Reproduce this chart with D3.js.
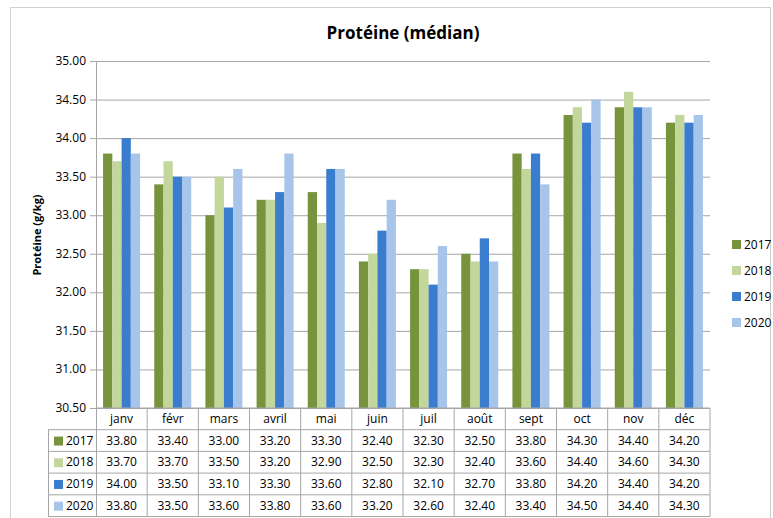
<!DOCTYPE html>
<html><head><meta charset="utf-8">
<script src="https://cdn.jsdelivr.net/npm/d3@7"></script>
<style>body{margin:0;background:#fff}text{font-family:"Open Sans","Liberation Sans",sans-serif;fill:#000}</style>
</head><body><div id="chart"></div>
<script>
var months = ["janv","févr","mars","avril","mai","juin","juil","août","sept","oct","nov","déc"];
var years = ["2017","2018","2019","2020"];
var v2017 = [33.80,33.40,33.00,33.20,33.30,32.40,32.30,32.50,33.80,34.30,34.40,34.20];
var v2018 = [33.70,33.70,33.50,33.20,32.90,32.50,32.30,32.40,33.60,34.40,34.60,34.30];
var v2019 = [34.00,33.50,33.10,33.30,33.60,32.80,32.10,32.70,33.80,34.20,34.40,34.20];
var v2020 = [33.80,33.50,33.60,33.80,33.60,33.20,32.60,32.40,33.40,34.50,34.40,34.30];
var yTicks = [30.5,31,31.5,32,32.5,33,33.5,34,34.5,35];
var colors = ["#77933c","#c3d69b","#3a7dce","#a7c4e9"];
var series = [v2017, v2018, v2019, v2020];

var W = 773, H = 518, L = 96, R = 710, T = 61, B = 408, rowH = 21.7, tableLeft = 48;

var svg = d3.select("#chart").append("svg").attr("width", W).attr("height", H);
svg.append("rect").attr("x", 10.5).attr("y", 7.5).attr("width", 760).attr("height", 520)
  .attr("fill", "none").attr("stroke", "#d0d0d0");

var x = d3.scaleBand().domain(months).range([L, R]);
var x1 = d3.scaleBand().domain(years).range([0, 37]);
var y = d3.scaleLinear().domain([30.5, 35]).range([B, T]);

// gridlines
svg.append("g").selectAll("line").data(yTicks).enter().append("line")
  .attr("x1", L - 6).attr("x2", R).attr("y1", d => y(d) + 0.5).attr("y2", d => y(d) + 0.5)
  .attr("stroke", "#a6a6a6");
svg.append("g").selectAll("text").data(yTicks).enter().append("text")
  .attr("x", L - 10).attr("y", d => y(d) + 4).attr("text-anchor", "end")
  .style("font-size", "12px").text(d => d.toFixed(2));

// bars
series.forEach(function (s, i) {
  svg.append("g").selectAll("rect").data(s).enter().append("rect")
    .attr("x", (d, j) => x(months[j]) + (x.bandwidth() - 37) / 2 + x1(years[i]))
    .attr("width", x1.bandwidth())
    .attr("y", d => y(d)).attr("height", d => B - y(d))
    .attr("fill", colors[i]);
});

// axis line
svg.append("line").attr("x1", L + 0.5).attr("x2", L + 0.5).attr("y1", T).attr("y2", B + rowH * 5)
  .attr("stroke", "#a6a6a6");

// data table
var tbl = svg.append("g").attr("stroke", "#a6a6a6");
for (var r = 0; r <= 5; r++) {
  tbl.append("line").attr("x1", r === 0 ? L : tableLeft).attr("x2", R)
    .attr("y1", B + r * rowH).attr("y2", B + r * rowH);
}
tbl.append("line").attr("x1", tableLeft + 0.5).attr("x2", tableLeft + 0.5).attr("y1", B + rowH).attr("y2", B + 5 * rowH);
months.forEach(function (m) {
  tbl.append("line").attr("x1", x(m) + x.bandwidth()).attr("x2", x(m) + x.bandwidth())
    .attr("y1", B).attr("y2", B + 5 * rowH);
});
svg.append("g").selectAll("text").data(months).enter().append("text")
  .attr("x", d => x(d) + x.bandwidth() / 2).attr("y", B + rowH / 2 + 4)
  .attr("text-anchor", "middle").style("font-size", "12px").text(d => d);
series.forEach(function (s, i) {
  var cy = B + rowH * (i + 1) + rowH / 2;
  svg.append("rect").attr("x", tableLeft + 6).attr("y", cy - 4).attr("width", 9).attr("height", 9).attr("fill", colors[i]);
  svg.append("text").attr("x", tableLeft + 18).attr("y", cy + 4).style("font-size", "12px").text(years[i]);
  svg.append("g").selectAll("text").data(s).enter().append("text")
    .attr("x", (d, j) => x(months[j]) + x.bandwidth() / 2).attr("y", cy + 4)
    .attr("text-anchor", "middle").style("font-size", "12px").text(d => d.toFixed(2));
});

// legend
years.forEach(function (yr, i) {
  var ly = 245 + i * 26;
  svg.append("rect").attr("x", 732).attr("y", ly - 5).attr("width", 9).attr("height", 9).attr("fill", colors[i]);
  svg.append("text").attr("x", 744).attr("y", ly + 4).style("font-size", "12px").text(yr);
});

// titles
svg.append("text").attr("x", 403).attr("y", 39).attr("text-anchor", "middle")
  .style("font-size", "17px").style("font-weight", "bold").text("Protéine (médian)");
svg.append("text").attr("transform", "translate(41,235) rotate(-90)").attr("text-anchor", "middle")
  .style("font-size", "11px").style("font-weight", "bold").text("Protéine (g/kg)");
</script></body></html>
